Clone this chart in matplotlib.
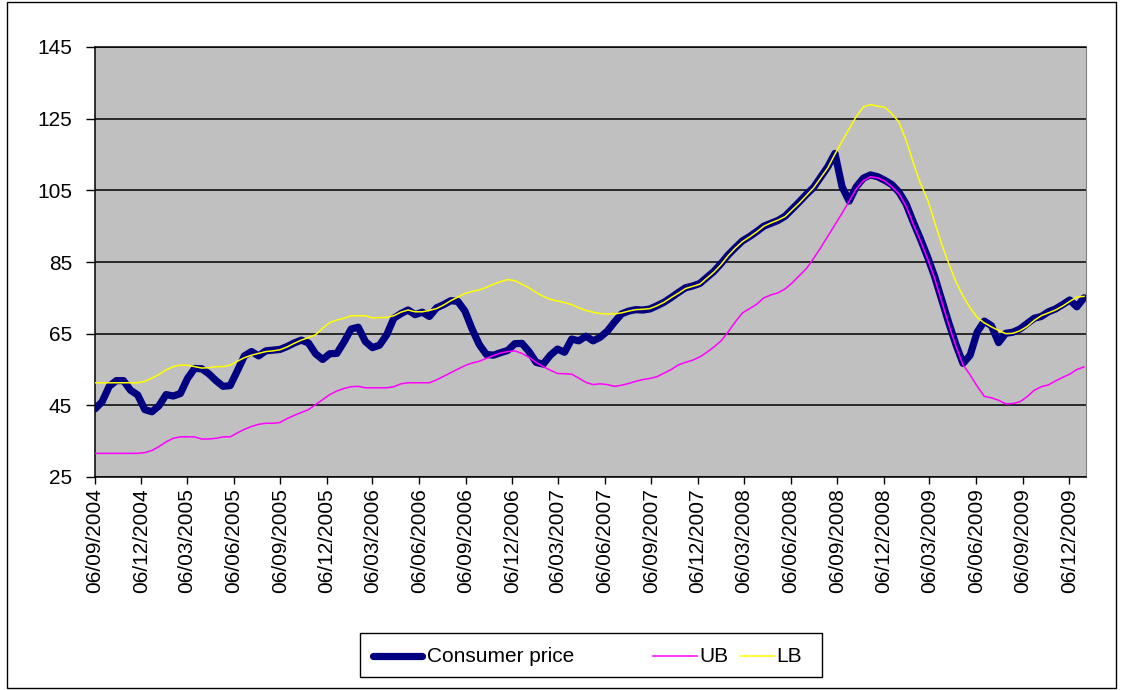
import matplotlib
matplotlib.use("Agg")
import matplotlib.pyplot as plt
import matplotlib.dates as mdates
from matplotlib.lines import Line2D
from matplotlib.patches import Rectangle
import pandas as pd

plt.rcParams['font.family'] = ['Liberation Sans', 'DejaVu Sans']

# ---- data (biweekly observations starting 06/09/2004) ----
dates = pd.date_range('2004-09-06', periods=140, freq='14D')

consumer_price = [
    44.0, 46.0, 50.3, 51.9, 51.9, 49.2, 47.9, 43.8, 43.2, 44.9,
    48.0, 47.6, 48.3, 52.5, 55.3, 55.2, 53.8, 51.9, 50.3, 50.5,
    54.6, 58.8, 60.0, 58.8, 60.2, 60.4, 60.6, 61.4, 62.4, 63.2,
    62.4, 59.4, 57.8, 59.4, 59.5, 62.7, 66.3, 66.8, 62.8, 61.1,
    61.8, 64.7, 69.3, 70.6, 71.6, 70.3, 71.0, 69.8, 72.2, 73.1,
    74.2, 74.0, 71.3, 66.3, 62.0, 59.2, 59.0, 59.7, 60.3, 62.2,
    62.3, 60.0, 57.0, 56.5, 59.0, 60.7, 59.8, 63.5, 63.0, 64.3,
    63.0, 64.0, 65.7, 68.2, 70.5, 71.3, 71.7, 71.6, 71.9, 72.8,
    73.8, 75.1, 76.5, 77.8, 78.3, 79.0, 80.7, 82.4, 84.6, 87.0,
    89.0, 90.9, 92.1, 93.5, 95.0, 95.8, 96.6, 97.8, 99.8, 101.8,
    103.9, 105.8, 108.7, 111.6, 115.3, 106.0, 102.0, 106.0, 108.4, 109.3,
    108.8, 107.8, 106.6, 104.5, 101.2, 96.2, 91.5, 86.5, 81.0, 74.5,
    68.0, 62.0, 56.7, 59.0, 65.5, 68.5, 67.2, 62.5, 65.1, 65.4,
    66.3, 67.8, 69.3, 69.8, 71.1, 71.9, 73.1, 74.4, 72.5, 75.0]

ub = [
    31.6, 31.6, 31.6, 31.6, 31.6, 31.6, 31.6, 31.8, 32.4, 33.5,
    34.8, 35.8, 36.2, 36.2, 36.2, 35.6, 35.6, 35.8, 36.2, 36.2,
    37.3, 38.3, 39.1, 39.7, 40.0, 40.0, 40.2, 41.3, 42.2, 43.0,
    43.8, 45.2, 46.6, 48.0, 49.0, 49.7, 50.2, 50.3, 49.9, 49.9,
    49.9, 49.9, 50.2, 51.0, 51.3, 51.3, 51.3, 51.3, 52.1, 53.1,
    54.1, 55.1, 56.1, 56.8, 57.3, 58.1, 58.9, 59.6, 60.0, 60.2,
    59.5, 58.4, 57.0, 55.8, 54.8, 53.9, 53.8, 53.7, 52.6, 51.4,
    50.8, 51.0, 50.8, 50.3, 50.6, 51.1, 51.7, 52.2, 52.5, 53.0,
    54.0, 55.0, 56.3, 57.0, 57.6, 58.5, 59.8, 61.3, 63.0, 65.5,
    68.3, 70.8, 72.0, 73.2, 75.0, 75.8, 76.4, 77.5, 79.2, 81.2,
    83.2, 86.0, 89.0, 92.2, 95.4, 98.6, 102.0, 105.4, 107.7, 108.8,
    108.5, 107.6, 106.0, 104.0, 100.6, 95.6, 91.0, 86.0, 80.5, 74.0,
    67.5, 61.5, 56.3, 53.5, 50.3, 47.5, 47.1, 46.4, 45.4, 45.5,
    46.0, 47.4, 49.2, 50.2, 50.7, 51.8, 52.8, 53.7, 55.0, 55.7]

lb = [
    51.3, 51.3, 51.3, 51.3, 51.3, 51.3, 51.3, 51.7, 52.6, 53.6,
    54.9, 55.8, 56.2, 56.2, 55.8, 55.4, 55.5, 55.8, 55.8, 56.2,
    57.3, 58.3, 59.0, 59.5, 60.0, 60.2, 60.5, 61.3, 62.3, 63.2,
    63.9, 64.7, 66.5, 68.1, 68.8, 69.3, 70.0, 70.0, 70.0, 69.4,
    69.5, 69.5, 70.0, 71.0, 71.6, 71.1, 71.1, 71.5, 72.0, 73.0,
    74.2, 75.2, 76.2, 76.8, 77.2, 77.9, 78.8, 79.5, 80.1, 79.8,
    78.8, 77.8, 76.5, 75.4, 74.6, 74.1, 73.7, 73.1, 72.2, 71.5,
    71.0, 70.6, 70.5, 70.5, 70.8, 71.3, 71.7, 71.8, 72.0, 72.8,
    73.8, 75.1, 76.3, 77.6, 78.2, 78.8, 80.5, 82.2, 84.3, 86.8,
    88.9, 90.7, 92.0, 93.4, 95.0, 95.9, 96.7, 97.7, 99.6, 101.5,
    103.6, 105.7, 108.5, 111.3, 115.1, 118.7, 122.2, 125.6, 128.3, 128.9,
    128.5, 128.2, 126.4, 124.0, 119.0, 112.8, 107.0, 102.5, 96.3, 90.0,
    84.6, 79.5, 75.5, 72.2, 69.5, 68.0, 66.9, 65.9, 65.0, 65.1,
    65.8, 67.0, 68.7, 70.0, 70.8, 71.6, 72.7, 74.0, 75.2, 75.4]

y_ticks = [25, 45, 65, 85, 105, 125, 145]
series_names = ['Consumer price', 'UB', 'LB']

# ---- figure ----
W, H = 1123, 690
fig = plt.figure(figsize=(W / 100, H / 100), dpi=100)
fig.patch.set_facecolor('white')

def fx(x):
    return x / W

def fy(y):
    return 1 - y / H

ax = fig.add_axes([fx(95), fy(477), (1086 - 95) / W, (477 - 47) / H])
ax.set_facecolor('#C0C0C0')

ax.plot(dates, consumer_price, color='#000080', lw=5.2, solid_capstyle='round',
        solid_joinstyle='round', zorder=3)
ax.plot(dates, ub, color='#FF00FF', lw=1.1, zorder=4)
ax.plot(dates, lb, color='#FFFF00', lw=1.1, zorder=5)

ax.set_ylim(25, 145)
ax.set_yticks(y_ticks)
ax.set_xlim(pd.Timestamp('2004-09-06'), pd.Timestamp('2010-01-08'))
ax.xaxis.set_major_locator(mdates.MonthLocator(bymonth=[3, 6, 9, 12], bymonthday=6))
ax.xaxis.set_major_formatter(mdates.DateFormatter('%d/%m/%Y'))

ax.yaxis.grid(True, color='black', lw=1.1)
ax.xaxis.grid(False)
ax.set_axisbelow(True)

for lab in ax.get_xticklabels():
    lab.set_rotation(90)
ax.tick_params(axis='y', direction='out', length=6.5, width=1.0, pad=10,
               labelsize=15, colors='black')
ax.tick_params(axis='x', direction='out', length=5, width=1.0, pad=3,
               labelsize=15, colors='black')

for s in ['left', 'bottom', 'top']:
    ax.spines[s].set_color('black')
    ax.spines[s].set_linewidth(1.1)
ax.spines['right'].set_color('#808080')
ax.spines['right'].set_linewidth(0.8)

# ---- legend (drawn manually to match the original spacing) ----
fig.add_artist(Rectangle((fx(360), fy(677)), (822 - 360) / W, (677 - 633) / H,
                         transform=fig.transFigure, facecolor='white',
                         edgecolor='black', lw=1.0))
ly = fy(656)
fig.add_artist(Line2D([fx(373), fx(422)], [ly, ly], transform=fig.transFigure,
                      color='#000080', lw=5.2, solid_capstyle='round'))
fig.text(fx(427), ly, series_names[0], fontsize=15, va='center', ha='left')
fig.add_artist(Line2D([fx(653), fx(697)], [ly, ly], transform=fig.transFigure,
                      color='#FF00FF', lw=1.1))
fig.text(fx(699), ly, series_names[1], fontsize=15, va='center', ha='left')
fig.add_artist(Line2D([fx(740), fx(775)], [ly, ly], transform=fig.transFigure,
                      color='#FFFF00', lw=1.1))
fig.text(fx(776), ly, series_names[2], fontsize=15, va='center', ha='left')

# outer chart border
fig.add_artist(Rectangle((fx(7), fy(688)), (1116 - 7) / W, (688 - 2) / H,
                         transform=fig.transFigure, facecolor='none',
                         edgecolor='black', lw=1.0))

fig.savefig('out.png', dpi=100)
